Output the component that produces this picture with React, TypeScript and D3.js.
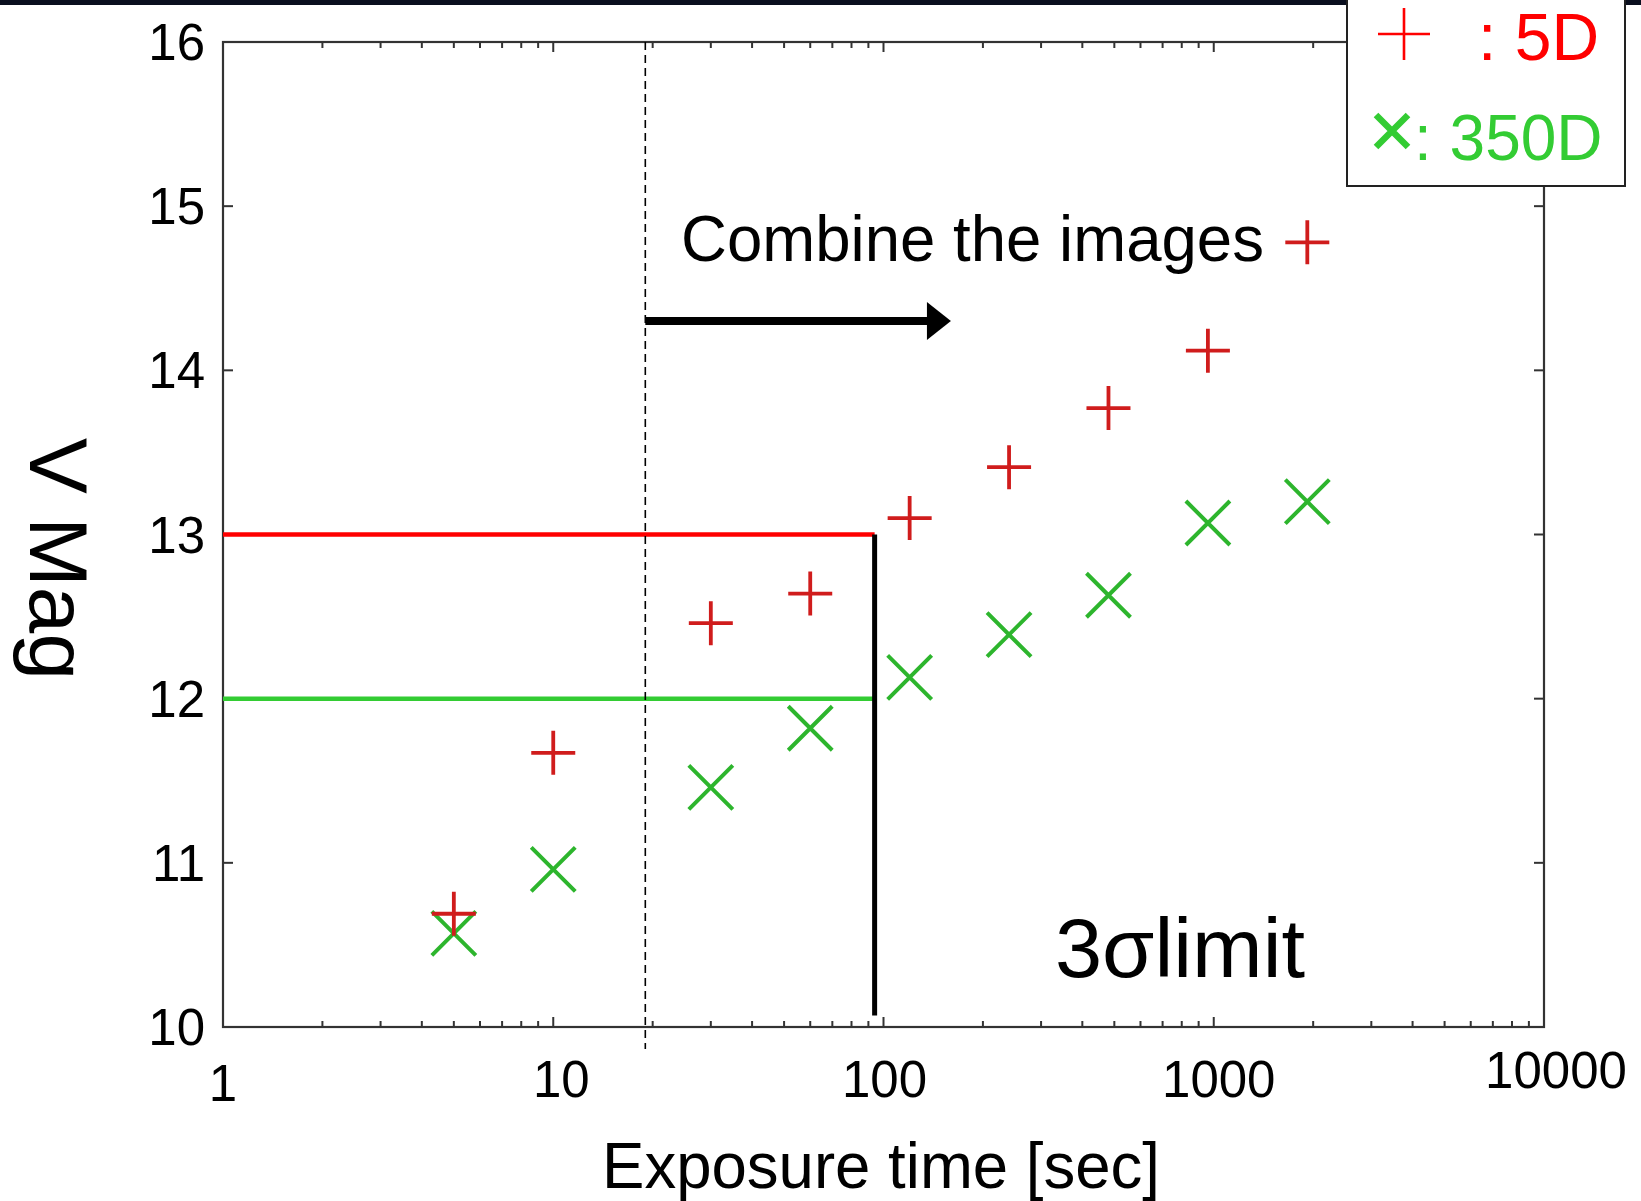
import React from 'react';
import * as d3 from 'd3';

// exposure times [sec] and limiting magnitudes
const times = [5, 10, 30, 60, 120, 240, 480, 960, 1920];
const mag5D = [10.69, 11.67, 12.46, 12.64, 13.1, 13.41, 13.77, 14.12, 14.78];
const mag350D = [10.57, 10.96, 11.46, 11.82, 12.13, 12.39, 12.63, 13.07, 13.2];

const xTickValues = [1, 10, 100, 1000, 10000];
const xTickLabels = ['1', '10', '100', '1000', '10000'];
const yTickValues = [10, 11, 12, 13, 14, 15, 16];

// annotation values
const limitTime = 94;
const limit5D = 13;
const limit350D = 12;
const combineTime = 19;
const arrowEnd = 160;
const arrowMag = 14.3;

const FONT = '"Liberation Sans", Arial, sans-serif';

export default function App() {
    const width = 1641;
    const height = 1201;
    const left = 223, right = 1544, top = 42, bottom = 1027;

    const x = d3.scaleLog().domain([1, 10000]).range([left, right]);
    const y = d3.scaleLinear().domain([10, 16]).range([bottom, top]);

    const minor = x.ticks().filter(t => Math.abs(Math.log10(t) - Math.round(Math.log10(t))) > 1e-9);
    const labelNudge = [[0, 4], [8, 0], [1, 0], [5, 0], [12, -9]];

    const plus = (cx: number, cy: number, h: number) =>
        `M${cx - h},${cy}H${cx + h}M${cx},${cy - h}V${cy + h}`;
    const cross = (cx: number, cy: number, h: number) =>
        `M${cx - h},${cy - h}L${cx + h},${cy + h}M${cx - h},${cy + h}L${cx + h},${cy - h}`;

    const ax = x(combineTime), ay = y(arrowMag), bx = x(arrowEnd);

    return (
        <svg width={width} height={height} style={{ position: 'absolute', left: 0, top: 0, background: '#fff' }}
            fontFamily={FONT}>
            <rect x={0} y={0} width={width} height={5} fill="#0a0f1f" />

            {/* frame */}
            <rect x={left} y={top} width={right - left} height={bottom - top} fill="none" stroke="#333" strokeWidth={2.2} />

            {/* x ticks, bottom and top */}
            <g stroke="#333" strokeWidth={2}>
                {minor.map(t => (
                    <g key={'m' + t}>
                        <line x1={x(t)} x2={x(t)} y1={bottom} y2={bottom - 6} />
                        <line x1={x(t)} x2={x(t)} y1={top} y2={top + 6} />
                    </g>
                ))}
                {xTickValues.map(t => (
                    <g key={'M' + t}>
                        <line x1={x(t)} x2={x(t)} y1={bottom} y2={bottom - 10} />
                        <line x1={x(t)} x2={x(t)} y1={top} y2={top + 10} />
                    </g>
                ))}
                {yTickValues.slice(1, -1).map(t => (
                    <g key={'y' + t}>
                        <line x1={left} x2={left + 10} y1={y(t)} y2={y(t)} />
                        <line x1={right} x2={right - 10} y1={y(t)} y2={y(t)} />
                    </g>
                ))}
            </g>

            {/* tick labels */}
            <g fontSize={51} fill="#000">
                {xTickLabels.map((l, i) => (
                    <text key={l} x={x(xTickValues[i]) + labelNudge[i][0]} y={1097 + labelNudge[i][1]} textAnchor="middle">{l}</text>
                ))}
                {yTickValues.map(t => (
                    <text key={t} x={205} y={y(t) + 18} textAnchor="end">{t}</text>
                ))}
            </g>

            {/* axis titles */}
            <text x={881} y={1188} fontSize={65} textAnchor="middle" textLength={558} lengthAdjust="spacingAndGlyphs">Exposure time [sec]</text>
            <text transform="translate(30,438) rotate(90)" fontSize={82} textLength={242} lengthAdjust="spacingAndGlyphs">V Mag</text>

            {/* limit lines */}
            <line x1={x(1)} x2={x(limitTime)} y1={y(limit5D)} y2={y(limit5D)} stroke="#ff0000" strokeWidth={4.5} />
            <line x1={x(1)} x2={x(limitTime)} y1={y(limit350D)} y2={y(limit350D)} stroke="#33cc33" strokeWidth={4.5} />
            <line x1={x(limitTime)} x2={x(limitTime)} y1={y(limit5D)} y2={y(10.07)} stroke="#000" strokeWidth={5} />

            {/* combine threshold */}
            <line x1={ax} x2={ax} y1={top} y2={bottom + 22} stroke="#000" strokeWidth={1.6} strokeDasharray="8,5" />
            <line x1={ax} x2={bx - 22} y1={ay} y2={ay} stroke="#000" strokeWidth={8} />
            <path d={`M${bx - 24},${ay - 19}L${bx},${ay}L${bx - 24},${ay + 19}Z`} fill="#000" />
            <text x={681} y={261} fontSize={65} textLength={583} lengthAdjust="spacingAndGlyphs">Combine the images</text>

            <text x={1055} y={977} fontSize={84} textLength={250} lengthAdjust="spacingAndGlyphs">3σlimit</text>

            {/* data points */}
            <g fill="none">
                {times.map((t, i) => (
                    <path key={'g' + t} d={cross(x(t), y(mag350D[i]), 22)} stroke="#2db52d" strokeWidth={4} />
                ))}
                {times.map((t, i) => (
                    <path key={'r' + t} d={plus(x(t), y(mag5D[i]), 22)} stroke="#d01c1c" strokeWidth={3.8} />
                ))}
            </g>

            {/* legend */}
            <rect x={1347} y={-4} width={278} height={190} fill="#fff" stroke="#222" strokeWidth={2} />
            <path d={plus(1404, 34, 26)} stroke="#ff0000" strokeWidth={2.6} fill="none" />
            <text x={1478} y={60} fontSize={66} fill="#ff0000">: 5D</text>
            <path d={cross(1392, 131, 16)} stroke="#33cc33" strokeWidth={6.5} fill="none" />
            <text x={1414} y={160} fontSize={64} fill="#33cc33">: 350D</text>
        </svg>
    );
}
